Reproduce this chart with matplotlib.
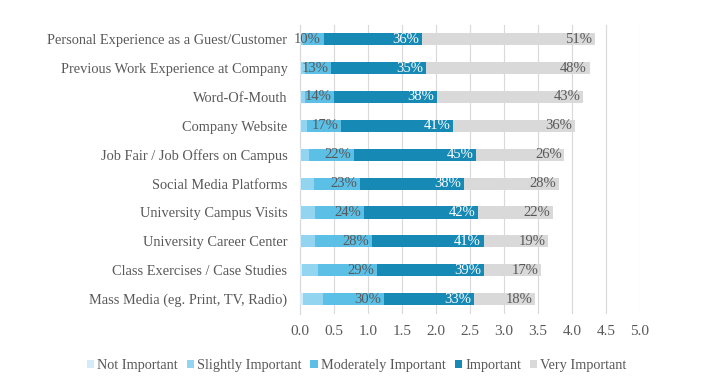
import matplotlib
matplotlib.use("Agg")
import matplotlib.pyplot as plt
import numpy as np

categories = [
    "Personal Experience as a Guest/Customer",
    "Previous Work Experience at Company",
    "Word-Of-Mouth",
    "Company Website",
    "Job Fair / Job Offers on Campus",
    "Social Media Platforms",
    "University Campus Visits",
    "University Career Center",
    "Class Exercises / Case Studies",
    "Mass Media (eg. Print, TV, Radio)",
]

# share of respondents (%) per rating
not_important = [1, 1, 2, 2, 1, 2, 2, 2, 3, 4]
slightly_important = [2, 3, 3, 4, 6, 9, 10, 10, 12, 15]
moderately_important = [10, 13, 14, 17, 22, 23, 24, 28, 29, 30]
important = [36, 35, 38, 41, 45, 38, 42, 41, 39, 33]
very_important = [51, 48, 43, 36, 26, 28, 22, 19, 17, 18]

series_names = ["Not Important", "Slightly Important", "Moderately Important",
                "Important", "Very Important"]
weights = [1, 2, 3, 4, 5]
colors = ["#d3ecf7", "#93d5f0", "#5bbfe6", "#1689b4", "#d9d9d9"]
show_label = [False, False, True, True, True]
label_colors = ["#595959", "#595959", "#595959", "white", "#595959"]

TEXT = "#595959"
plt.rcParams["font.family"] = ["Liberation Serif", "DejaVu Serif"]

fig = plt.figure(figsize=(7.28, 3.81), dpi=100)
ax = fig.add_axes([0.412, 0.177, 0.467, 0.758])

y = np.arange(len(categories))
left = np.zeros(len(categories))
data = [not_important, slightly_important, moderately_important, important, very_important]
for vals, w, c, name, lab, lc in zip(data, weights, colors, series_names, show_label, label_colors):
    widths = np.array(vals) * w / 100.0
    ax.barh(y, widths, left=left, height=0.42, color=c, label=name, zorder=3)
    if lab:
        for yi, l, wd, v in zip(y, left, widths, vals):
            ax.text(l + wd - 0.04, yi, f"{v}%", ha="right", va="center",
                    fontsize=10.5, color=lc, zorder=4)
    left = left + widths

ax.set_xlim(0, 5)
ax.set_ylim(len(categories) - 0.5, -0.5)
ticks = np.arange(0, 5.01, 0.5)
ax.set_xticks(ticks)
ax.set_xticklabels([f"{t:.1f}" for t in ticks])
ax.set_yticks(y)
ax.set_yticklabels(categories, fontsize=10.4)
ax.tick_params(axis="both", length=0, colors=TEXT)
ax.tick_params(axis="x", labelsize=11, pad=8)
ax.tick_params(axis="y", pad=9)
ax.grid(axis="x", color="#d9d9d9", linewidth=0.8, zorder=0)
for s in ["top", "right", "bottom"]:
    ax.spines[s].set_visible(False)
ax.spines["left"].set_color("#d9d9d9")

fig.legend(loc="lower center", bbox_to_anchor=(0.49, -0.01), ncol=5, frameon=False,
           fontsize=10.3, labelcolor=TEXT, handlelength=0.5, handleheight=0.5,
           handletextpad=0.25, columnspacing=0.6)

fig.savefig("out.png", dpi=100)
